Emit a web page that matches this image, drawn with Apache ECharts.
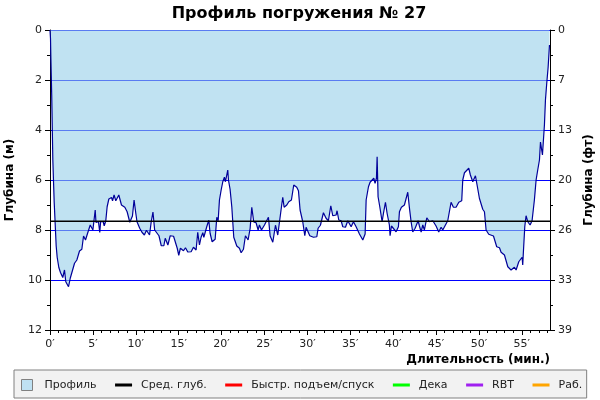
<!DOCTYPE html>
<html>
<head>
<meta charset="utf-8">
<style>
  html, body { margin: 0; padding: 0; background: #fff; }
  #chart { width: 600px; height: 400px; }
</style>
<script src="https://cdn.jsdelivr.net/npm/echarts@6/dist/echarts.min.js"></script>
</head>
<body>
<div id="chart"></div>
<script>
// время (мин.) и глубина (м)
const minutes = [
  0, 0.06, 0.1, 0.2, 0.2, 0.33, 0.33, 0.49, 0.61, 0.72,
  0.84, 1.03, 1.22, 1.49, 1.69, 1.84, 2.16, 2.36, 2.59, 2.86,
  3.13, 3.44, 3.71, 3.91, 4.14, 4.41, 4.69, 5.0, 5.27, 5.36,
  5.45, 5.65, 5.8, 5.9, 6.2, 6.32, 6.5, 6.66, 6.86, 7.17,
  7.29, 7.47, 7.67, 8.02, 8.33, 8.72, 8.99, 9.3, 9.61, 9.8,
  10.0, 10.14, 10.46, 10.72, 11.0, 11.24, 11.6, 11.8, 12.0, 12.2,
  12.7, 12.97, 13.27, 13.43, 13.74, 14.01, 14.4, 14.51, 14.83, 15.01,
  15.2, 15.56, 15.79, 16.06, 16.45, 16.72, 17.03, 17.22, 17.42, 17.61,
  17.81, 17.93, 18.12, 18.27, 18.51, 18.66, 18.9, 19.25, 19.44, 19.6,
  19.75, 19.95, 20.14, 20.33, 20.45, 20.72, 20.8, 20.99, 21.19, 21.42,
  21.77, 22.08, 22.28, 22.55, 22.78, 23.09, 23.33, 23.52, 23.75, 24.02,
  24.26, 24.41, 24.65, 25.0, 25.46, 25.66, 25.97, 26.28, 26.55, 26.74,
  26.98, 27.13, 27.29, 27.6, 27.83, 28.14, 28.41, 28.76, 28.96, 29.15,
  29.46, 29.7, 29.85, 30.05, 30.28, 30.51, 30.71, 31.1, 31.25, 31.52,
  31.72, 31.87, 32.18, 32.45, 32.73, 32.96, 33.35, 33.46, 33.66, 33.93,
  34.13, 34.44, 34.71, 35.1, 35.37, 35.68, 36.07, 36.46, 36.73, 36.85,
  37.12, 37.31, 37.51, 37.74, 37.89, 38.05, 38.13, 38.2, 38.24, 38.44,
  38.71, 38.87, 39.1, 39.29, 39.56, 39.64, 39.8, 40.03, 40.34, 40.61,
  40.73, 40.96, 41.31, 41.7, 41.9, 42.09, 42.28, 42.56, 42.75, 42.91,
  43.06, 43.26, 43.45, 43.64, 43.92, 44.23, 44.62, 45.0, 45.31, 45.59,
  45.78, 46.01, 46.36, 46.75, 47.02, 47.33, 47.65, 47.99, 48.11, 48.31,
  48.81, 49.0, 49.28, 49.59, 49.78, 50.05, 50.44, 50.64, 50.83, 51.14,
  51.69, 52.07, 52.39, 52.58, 52.97, 53.36, 53.74, 54.13, 54.33, 54.64,
  55.03, 55.1, 55.18, 55.34, 55.49, 55.69, 55.96, 56.19, 56.46, 56.66,
  56.85, 57.05, 57.17, 57.4, 57.63, 57.75, 57.9, 58.06, 58.22
]
const depths = [
  0, 0.35, 1.1, 1.1, 2.6, 2.6, 5.2, 6.9, 7.8, 8.64,
  9.1, 9.5, 9.7, 9.9, 9.6, 10.07, 10.27, 9.93, 9.93, 9.33,
  9.2, 8.84, 8.77, 8.24, 8.4, 8.1, 7.8, 8.0, 7.2, 7.7,
  7.67, 7.67, 8.1, 7.67, 7.67, 7.83, 7.64, 7.07, 6.76, 6.7,
  6.83, 6.6, 6.83, 6.6, 7.0, 7.09, 7.27, 7.69, 7.44, 6.8,
  7.33, 7.67, 7.93, 8.09, 8.2, 8.01, 8.2, 7.67, 7.28, 8.0,
  8.23, 8.63, 8.63, 8.33, 8.6, 8.23, 8.25, 8.37, 8.73, 9.01,
  8.73, 8.83, 8.71, 8.88, 8.87, 8.69, 8.8, 8.09, 8.6, 8.29,
  8.11, 8.29, 8.29, 7.87, 7.61, 8.13, 8.47, 8.37, 7.49, 7.63,
  6.8, 6.4, 6.07, 5.89, 6.07, 5.6, 6.0, 6.37, 7.07, 8.29,
  8.64, 8.73, 8.91, 8.77, 8.23, 8.4, 7.93, 7.09, 7.68, 7.71,
  8.0, 7.8, 8.0, 7.8, 7.49, 8.24, 8.49, 7.81, 8.2, 8.23,
  7.07, 6.69, 7.09, 7.0, 6.87, 6.8, 6.2, 6.29, 6.43, 7.2,
  7.67, 8.23, 7.89, 7.93, 8.23, 8.23, 8.29, 8.27, 7.93, 7.81,
  7.84, 7.31, 7.53, 7.63, 7.03, 7.43, 7.4, 7.23, 7.6, 7.63,
  7.87, 7.89, 7.63, 7.87, 7.67, 7.87, 8.16, 8.4, 8.16, 6.8,
  6.27, 6.09, 6.17, 5.93, 6.13, 5.93, 5.07, 5.0, 6.67, 7.07,
  7.67, 7.33, 6.89, 7.33, 7.8, 8.23, 7.84, 7.84, 8.07, 7.87,
  7.27, 7.09, 7.0, 6.49, 7.13, 7.67, 8.08, 7.93, 7.97, 7.63,
  7.84, 8.08, 7.8, 8.0, 7.51, 7.67, 7.63, 7.84, 8.08, 7.89,
  8.0, 8.07, 7.63, 6.89, 7.09, 7.09, 6.89, 6.83, 6.0, 5.71,
  5.53, 5.8, 6.07, 5.83, 6.2, 6.73, 7.17, 7.27, 8.0, 8.17,
  8.24, 8.67, 8.71, 8.89, 9.0, 9.47, 9.6, 9.49, 9.6, 9.27,
  9.09, 9.4, 8.87, 7.87, 7.43, 7.67, 7.8, 7.63, 6.8, 6.0,
  5.6, 5.2, 4.48, 5.0, 3.8, 2.8, 2.13, 1.5, 0.6
]
const avgDepth = 7.65
const maxMinutes = 58.28
const labelMinutes = [0, 5, 10, 15, 20, 25, 30, 35, 40, 45, 50, 55]
const everyMinute = [0, 1, 2, 3, 4, 5, 6, 7, 8, 9, 10, 11, 12, 13, 14, 15, 16, 17, 18, 19, 20, 21, 22, 23, 24, 25, 26, 27, 28, 29,
  30, 31, 32, 33, 34, 35, 36, 37, 38, 39, 40, 41, 42, 43, 44, 45, 46, 47, 48, 49, 50, 51, 52, 53, 54, 55, 56, 57, 58]
const feetLabels = ['0', '7', '13', '20', '26', '33', '39']

const FONT = '"DejaVu Sans"'
const lineIcon = 'path://M0 0H17V3H0Z'

// легенда: пустые серии нужны только ради строк в рамке
const legendRows = [
  { name: 'Сред. глуб.', color: '#000000' },
  { name: 'Быстр. подъем/спуск', color: '#ff0000' },
  { name: 'Дека', color: '#00ff00' },
  { name: 'RBT', color: '#a020f0' },
  { name: 'Раб.', color: '#ffa500' }
]

const chart = echarts.init(document.getElementById('chart'), null, { renderer: 'canvas' })

const depthAxis = (position, extra) => Object.assign({
  type: 'value',
  position,
  inverse: true,
  min: 0,
  max: 12,
  interval: 2,
  minorTick: { show: true, splitNumber: 2, length: 3, lineStyle: { color: '#000' } },
  axisLine: { show: true, onZero: false, lineStyle: { color: '#000' } },
  axisTick: { show: true, length: 5, lineStyle: { color: '#000' } },
  nameLocation: 'middle',
  nameRotate: 90,
  nameTextStyle: { fontFamily: FONT, fontWeight: 'bold', fontSize: 12, color: '#000' }
}, extra)

chart.setOption({
  animation: false,
  title: {
    text: 'Профиль погружения № 27',
    left: 294,
    textAlign: 'center',
    top: 1,
    textStyle: { fontFamily: FONT, fontWeight: 'bold', fontSize: 16, color: '#000' }
  },
  grid: { left: 50, right: 50, top: 30, bottom: 70, outerBoundsMode: 'none' },
  legend: {
    left: 14,
    top: 370,
    orient: 'horizontal',
    padding: [9, 4.5, 7, 7],
    itemWidth: 17,
    itemHeight: 11,
    itemGap: 18.5,
    backgroundColor: '#f2f2f2',
    borderColor: '#808080',
    borderWidth: 1,
    selectedMode: false,
    textStyle: { fontFamily: FONT, fontSize: 11, color: '#222', padding: [0, 0, 0, 4] },
    data: [
      { name: 'Профиль', icon: 'path://M0 0H11V11H0Z', itemStyle: { color: '#bfe1f2', borderColor: '#808080', borderWidth: 1 } }
    ].concat(legendRows.map(r => ({ name: r.name, icon: lineIcon, itemStyle: { color: r.color, borderWidth: 0 } })))
  },
  xAxis: [
    {
      type: 'value',
      position: 'bottom',
      min: 0,
      max: maxMinutes,
      axisLine: { show: true, onZero: false, lineStyle: { color: '#000' } },
      axisTick: { show: true, length: 5, customValues: labelMinutes, lineStyle: { color: '#000' } },
      axisLabel: {
        customValues: labelMinutes,
        formatter: v => v + '′',
        margin: 9,
        fontFamily: FONT,
        fontSize: 11,
        color: '#222'
      },
      splitLine: { show: false },
      name: 'Длительность (мин.)',
      nameLocation: 'end',
      nameGap: 0,
      nameTextStyle: {
        fontFamily: FONT, fontWeight: 'bold', fontSize: 12, color: '#000',
        align: 'right', verticalAlign: 'top', padding: [24, 0, 0, 0]
      }
    },
    {
      // минутные засечки
      type: 'value',
      position: 'bottom',
      min: 0,
      max: maxMinutes,
      axisLine: { show: false, onZero: false },
      axisTick: { show: true, length: 3, customValues: everyMinute, lineStyle: { color: '#000' } },
      axisLabel: { show: false },
      splitLine: { show: false }
    }
  ],
  yAxis: [
    depthAxis('left', {
      name: 'Глубина (м)',
      nameGap: 34,
      axisLabel: { margin: 8, fontFamily: FONT, fontSize: 11, color: '#222' },
      splitLine: { show: true, lineStyle: { color: '#0000ff', width: 1 } }
    }),
    depthAxis('right', {
      name: 'Глубина (фт)',
      nameGap: 31,
      axisLabel: {
        margin: 8,
        fontFamily: FONT,
        fontSize: 11,
        color: '#222',
        formatter: v => feetLabels[v / 2]
      },
      splitLine: { show: false }
    })
  ],
  series: [
    {
      name: 'Профиль',
      type: 'line',
      symbol: 'none',
      data: minutes.map((m, i) => [m, depths[i]]),
      lineStyle: { color: '#000099', width: 1.2 },
      itemStyle: { color: '#bfe1f2' },
      areaStyle: { color: 'rgba(150,207,233,0.6)', origin: 'start', opacity: 1 },
      z: 3
    },
    {
      name: 'Сред. глуб.',
      type: 'line',
      symbol: 'none',
      data: [[0, avgDepth], [maxMinutes, avgDepth]],
      lineStyle: { color: '#000', width: 1.5 },
      z: 4
    }
  ].concat(legendRows.slice(1).map(r => ({ name: r.name, type: 'line', symbol: 'none', data: [], itemStyle: { color: r.color } })))
})
</script>
</body>
</html>
